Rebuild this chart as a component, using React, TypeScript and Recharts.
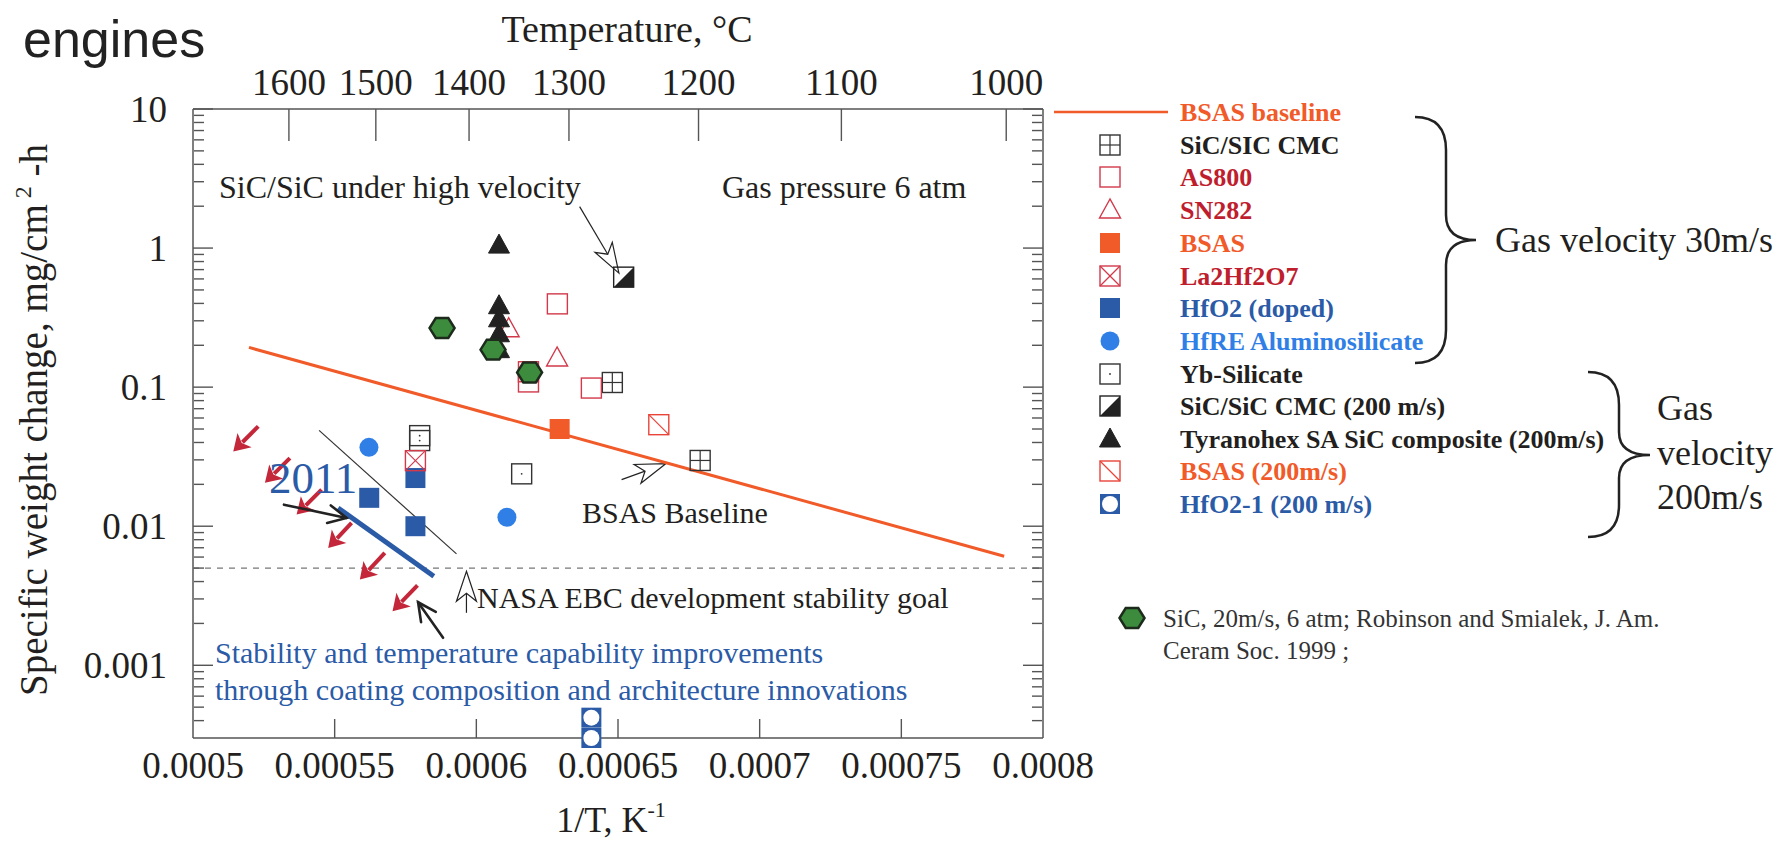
import { ScatterChart, Scatter, XAxis, YAxis, ReferenceLine } from 'recharts'

const SERIF = '"Liberation Serif", "Times New Roman", serif'
const SANS = '"Liberation Sans", Arial, sans-serif'
const INK = '#231f20'
const AXIS = '#555'
const ORANGE = '#f15a29'
const DARKRED = '#be1e2d'
const MARKRED = '#d2394a'
const BLUE = '#2b5ba6'
const LIGHTBLUE = '#2f7fe6'
const GREEN = '#3d8b3d'
const RED_ARROW = '#c4263a'

// axes
const X_DOMAIN: [number, number] = [0.0005, 0.0008]
const Y_DOMAIN: [number, number] = [0.0003, 10]
const xTicks = [0.0005, 0.00055, 0.0006, 0.00065, 0.0007, 0.00075, 0.0008]
const yTicks = [0.001, 0.01, 0.1, 1, 10]
const yMinorTicks = [0.0001, 0.001, 0.01, 0.1, 1]
  .flatMap(d => [2, 3, 4, 5, 6, 7, 8, 9].map(m => +(d * m).toPrecision(2)))
  .filter(v => v > 0.0003)
const tempTickPos = [0.00053385, 0.00056453, 0.00059743, 0.00063269, 0.00067842, 0.00072884, 0.00078702]
const tempTickLabels = ['1600', '1500', '1400', '1300', '1200', '1100', '1000']

// series (x = 1/T, y = mg/cm2-h)
const bsasBaseline = [{ x: 0.00051975, y: 0.193 }, { x: 0.0007863, y: 0.00608 }]
const sicCmc = [{ x: 0.000648, y: 0.108 }, { x: 0.000679, y: 0.0297 }]
const as800 = [
  { x: 0.0006286, y: 0.397 },
  { x: 0.0006184, y: 0.129 },
  { x: 0.0006184, y: 0.109 },
  { x: 0.0006406, y: 0.0985 },
]
const sn282 = [{ x: 0.0006114, y: 0.263 }, { x: 0.0006285, y: 0.162 }]
const bsas = [{ x: 0.0006294, y: 0.05 }]
const ybSilicate = [{ x: 0.00058, y: 0.0448 }, { x: 0.00058, y: 0.0413 }, { x: 0.000616, y: 0.0238 }]
const hfo2Doped = [{ x: 0.0005785, y: 0.0222 }, { x: 0.0005622, y: 0.016 }, { x: 0.0005785, y: 0.01 }]
const la2hf2o7 = [{ x: 0.0005785, y: 0.0296 }]
const hfreAlumino = [{ x: 0.0005621, y: 0.0369 }, { x: 0.0006108, y: 0.0116 }]
const sicCmc200 = [{ x: 0.000652, y: 0.618 }]
const tyranohex = [
  { x: 0.000608, y: 1.05 },
  { x: 0.000608, y: 0.385 },
  { x: 0.000608, y: 0.31 },
  { x: 0.000608, y: 0.242 },
  { x: 0.000608, y: 0.186 },
]
const bsas200 = [{ x: 0.0006644, y: 0.0537 }]
const hfo2One200 = [{ x: 0.0006406, y: 0.00042 }, { x: 0.0006406, y: 0.0003 }]
const sicRobinson = [{ x: 0.0005879, y: 0.266 }, { x: 0.0006059, y: 0.186 }, { x: 0.0006188, y: 0.1276 }]

// annotations, [tail, head] in data units
type Pt = { x: number; y: number }
const redArrows: [Pt, Pt][] = [
  [{ x: 0.00052303, y: 0.0522 }, { x: 0.00051421, y: 0.0345 }],
  [{ x: 0.0005342, y: 0.0309 }, { x: 0.00052539, y: 0.0205 }],
  [{ x: 0.00054538, y: 0.01832 }, { x: 0.00053657, y: 0.01212 }],
  [{ x: 0.00055596, y: 0.01056 }, { x: 0.00054771, y: 0.00698 }],
  [{ x: 0.0005677, y: 0.00643 }, { x: 0.00055889, y: 0.00413 }],
  [{ x: 0.00057923, y: 0.00376 }, { x: 0.00057042, y: 0.00245 }],
]
const blackArrows: [Pt, Pt][] = [
  [{ x: 0.00053209, y: 0.01429 }, { x: 0.0005542, y: 0.01147 }],
  [{ x: 0.00058826, y: 0.001576 }, { x: 0.00057944, y: 0.00284 }],
]
const hollowArrows: [Pt, Pt][] = [
  [{ x: 0.00063646, y: 1.987 }, { x: 0.00065032, y: 0.66 }],
  [{ x: 0.00065127, y: 0.02162 }, { x: 0.00066685, y: 0.02817 }],
  [{ x: 0.00059651, y: 0.002384 }, { x: 0.00059651, y: 0.004742 }],
]
const stabilityGoal = 0.005
const trendLine: [Pt, Pt] = [{ x: 0.0005445, y: 0.0489 }, { x: 0.000593, y: 0.00632 }]
const line2011: [Pt, Pt] = [{ x: 0.0005512, y: 0.01353 }, { x: 0.000585, y: 0.00437 }]

type Kind =
  | 'grid' | 'open' | 'tri' | 'fill' | 'boxX' | 'circle' | 'dot'
  | 'half' | 'blackTri' | 'diag' | 'sqCircle' | 'hex'

function Marker({ kind, cx, cy, color }: { kind: Kind; cx: number; cy: number; color: string }) {
  const s = 20
  const h = s / 2
  const box = <rect x={cx - h} y={cy - h} width={s} height={s} fill="none" stroke={color} strokeWidth={1.4} />
  switch (kind) {
    case 'grid':
      return (
        <g>
          {box}
          <line x1={cx} y1={cy - h} x2={cx} y2={cy + h} stroke={color} strokeWidth={1.2} />
          <line x1={cx - h} y1={cy} x2={cx + h} y2={cy} stroke={color} strokeWidth={1.2} />
        </g>
      )
    case 'open':
      return box
    case 'tri':
      return <polygon points={`${cx},${cy - 11} ${cx - 10.5},${cy + 8} ${cx + 10.5},${cy + 8}`} fill="none" stroke={color} strokeWidth={1.4} />
    case 'blackTri':
      return <polygon points={`${cx},${cy - 11} ${cx - 10.5},${cy + 8} ${cx + 10.5},${cy + 8}`} fill={color} stroke={color} strokeWidth={1} />
    case 'fill':
      return <rect x={cx - h} y={cy - h} width={s} height={s} fill={color} />
    case 'boxX':
      return (
        <g>
          {box}
          <line x1={cx - h} y1={cy - h} x2={cx + h} y2={cy + h} stroke={color} strokeWidth={1.2} />
          <line x1={cx + h} y1={cy - h} x2={cx - h} y2={cy + h} stroke={color} strokeWidth={1.2} />
        </g>
      )
    case 'circle':
      return <circle cx={cx} cy={cy} r={9.5} fill={color} />
    case 'dot':
      return (
        <g>
          {box}
          <circle cx={cx} cy={cy} r={0.9} fill={color} />
        </g>
      )
    case 'half':
      return (
        <g>
          {box}
          <polygon points={`${cx + h},${cy - h} ${cx + h},${cy + h} ${cx - h},${cy + h}`} fill={color} />
        </g>
      )
    case 'diag':
      return (
        <g>
          {box}
          <line x1={cx - h} y1={cy - h} x2={cx + h} y2={cy + h} stroke={color} strokeWidth={1.2} />
        </g>
      )
    case 'sqCircle':
      return (
        <g>
          <rect x={cx - h} y={cy - h} width={s} height={s} fill={color} />
          <circle cx={cx} cy={cy} r={8} fill="#fff" />
        </g>
      )
    case 'hex': {
      const r = 12.5
      const pts = [0, 60, 120, 180, 240, 300]
        .map(a => `${cx + r * Math.cos((a * Math.PI) / 180)},${cy + r * 0.92 * Math.sin((a * Math.PI) / 180)}`)
        .join(' ')
      return <polygon points={pts} fill={GREEN} stroke="#1c2b1c" strokeWidth={2.5} />
    }
  }
}

const shapeOf = (kind: Kind, color: string) => (p: any) =>
  <Marker kind={kind} cx={p.cx} cy={p.cy} color={color} />

const noLabel = () => <g />
const noPoint = () => <g />

const BottomTick = (p: any) => (
  <text x={p.x} y={p.y} dy="0.71em" textAnchor="middle" fontSize={37} fill={INK} fontFamily={SERIF}>
    {String(p.payload?.value)}
  </text>
)

const TempTick = (p: any) => {
  const v = p.payload?.value
  const i = tempTickPos.findIndex(t => Math.abs(t - v) < 1e-9)
  return (
    <text x={p.x} y={p.y} textAnchor="middle" fontSize={37} fill={INK} fontFamily={SERIF}>
      {i >= 0 ? tempTickLabels[i] : ''}
    </text>
  )
}

function arrowShape(kind: 'red' | 'black' | 'hollow') {
  return (p: any) => {
    const x1 = Number(p.x1)
    const y1 = Number(p.y1)
    const x2 = Number(p.x2)
    const y2 = Number(p.y2)
    const dx = x2 - x1
    const dy = y2 - y1
    const len = Math.hypot(dx, dy) || 1
    const ux = dx / len
    const uy = dy / len
    const vx = -uy
    const vy = ux
    if (kind === 'red') {
      const L = 16
      const W = 10
      const bx = x2 - ux * L
      const by = y2 - uy * L
      return (
        <g>
          <line x1={x1} y1={y1} x2={bx + ux * 3} y2={by + uy * 3} stroke={RED_ARROW} strokeWidth={4} />
          <polygon points={`${x2},${y2} ${bx + vx * W},${by + vy * W} ${bx + ux * 4},${by + uy * 4} ${bx - vx * W},${by - vy * W}`} fill={RED_ARROW} />
        </g>
      )
    }
    if (kind === 'black') {
      const L = 18
      const W = 9
      const bx = x2 - ux * L
      const by = y2 - uy * L
      return (
        <g stroke="#222" strokeWidth={2.6} fill="none" strokeLinecap="round">
          <line x1={x1} y1={y1} x2={x2} y2={y2} />
          <polyline points={`${bx + vx * W},${by + vy * W} ${x2},${y2} ${bx - vx * W},${by - vy * W}`} />
        </g>
      )
    }
    const L = 30
    const W = 10
    const n = 8
    const bx = x2 - ux * L
    const by = y2 - uy * L
    const nx = x2 - ux * (L - n)
    const ny = y2 - uy * (L - n)
    return (
      <g stroke="#222" strokeWidth={1.2}>
        <line x1={x1} y1={y1} x2={nx} y2={ny} />
        <polygon points={`${x2},${y2} ${bx + vx * W},${by + vy * W} ${nx},${ny} ${bx - vx * W},${by - vy * W}`} fill="#fff" />
      </g>
    )
  }
}

const legendRows: { label: string; color: string; kind: Kind | 'line'; markColor: string }[] = [
  { label: 'BSAS baseline', color: ORANGE, kind: 'line', markColor: ORANGE },
  { label: 'SiC/SIC CMC', color: INK, kind: 'grid', markColor: '#333' },
  { label: 'AS800', color: DARKRED, kind: 'open', markColor: MARKRED },
  { label: 'SN282', color: DARKRED, kind: 'tri', markColor: MARKRED },
  { label: 'BSAS', color: ORANGE, kind: 'fill', markColor: ORANGE },
  { label: 'La2Hf2O7', color: DARKRED, kind: 'boxX', markColor: MARKRED },
  { label: 'HfO2 (doped)', color: BLUE, kind: 'fill', markColor: BLUE },
  { label: 'HfRE Aluminosilicate', color: LIGHTBLUE, kind: 'circle', markColor: LIGHTBLUE },
  { label: 'Yb-Silicate', color: INK, kind: 'dot', markColor: '#333' },
  { label: 'SiC/SiC CMC (200 m/s)', color: INK, kind: 'half', markColor: '#222' },
  { label: 'Tyranohex SA SiC composite (200m/s)', color: INK, kind: 'blackTri', markColor: '#222' },
  { label: 'BSAS (200m/s)', color: ORANGE, kind: 'diag', markColor: '#e8443a' },
  { label: 'HfO2-1 (200 m/s)', color: BLUE, kind: 'sqCircle', markColor: BLUE },
]
const legendY = [112, 145, 177, 210, 243, 276, 308, 341, 374, 406, 439, 471, 504]

export default function App() {
  const axisLine = { stroke: AXIS, strokeWidth: 1.5 }
  const tickLine = { stroke: AXIS, strokeWidth: 1.4 }
  const tickText = { fontSize: 37, fill: INK, fontFamily: SERIF }
  return (
    <div style={{ position: 'absolute', left: 0, top: 0, width: 1784, height: 843, background: '#fff', overflow: 'hidden' }}>
      <ScatterChart width={1784} height={843} margin={{ top: 108, right: 741, bottom: 104, left: 192 }}>
        <XAxis xAxisId="x" type="number" dataKey="x" domain={X_DOMAIN} ticks={xTicks} interval={0}
          height={1} tickSize={0} tickMargin={14} tickLine={false} axisLine={axisLine} tick={BottomTick} />
        <XAxis xAxisId="xin" type="number" dataKey="x" domain={X_DOMAIN} ticks={xTicks.slice(1, -1)} interval={0}
          height={1} mirror tickSize={19} tick={noLabel} axisLine={false} tickLine={tickLine} />
        <XAxis xAxisId="top" orientation="top" type="number" dataKey="x" domain={X_DOMAIN} ticks={tempTickPos} interval={0}
          height={1} tickSize={0} tickMargin={14} tickLine={false} axisLine={axisLine} tick={TempTick} />
        <XAxis xAxisId="topin" orientation="top" type="number" dataKey="x" domain={X_DOMAIN} ticks={tempTickPos} interval={0}
          height={1} mirror tickSize={32} tick={noLabel} axisLine={false} tickLine={tickLine} />
        <YAxis yAxisId="y" type="number" dataKey="y" scale="log" domain={Y_DOMAIN} ticks={yTicks} interval={0}
          width={1} tickSize={0} tickMargin={26} tickLine={false} axisLine={axisLine} tick={tickText}
          tickFormatter={(v: number) => String(v)} />
        <YAxis yAxisId="ymaj" type="number" scale="log" domain={Y_DOMAIN} ticks={yTicks} allowDataOverflow interval={0}
          width={1} mirror tickSize={20} tick={noLabel} axisLine={false} tickLine={tickLine} />
        <YAxis yAxisId="ymin" type="number" scale="log" domain={Y_DOMAIN} ticks={yMinorTicks} allowDataOverflow interval={0}
          width={1} mirror tickSize={10} tick={noLabel} axisLine={false} tickLine={tickLine} />
        <YAxis yAxisId="rmaj" orientation="right" type="number" scale="log" domain={Y_DOMAIN} ticks={yTicks} allowDataOverflow interval={0}
          width={1} mirror tickSize={20} tick={noLabel} axisLine={axisLine} tickLine={tickLine} />
        <YAxis yAxisId="rmin" orientation="right" type="number" scale="log" domain={Y_DOMAIN} ticks={yMinorTicks} allowDataOverflow interval={0}
          width={1} mirror tickSize={10} tick={noLabel} axisLine={false} tickLine={tickLine} />

        <ReferenceLine xAxisId="x" yAxisId="y" y={stabilityGoal} stroke="#777" strokeWidth={1.2} strokeDasharray="6 6" />
        <ReferenceLine xAxisId="x" yAxisId="y" segment={trendLine} stroke="#333" strokeWidth={1.2} />
        <ReferenceLine xAxisId="x" yAxisId="y" segment={line2011} stroke={BLUE} strokeWidth={5} />
        {redArrows.map((seg, i) => (
          <ReferenceLine key={'r' + i} xAxisId="x" yAxisId="y" segment={seg} shape={arrowShape('red')} />
        ))}
        {blackArrows.map((seg, i) => (
          <ReferenceLine key={'b' + i} xAxisId="x" yAxisId="y" segment={seg} shape={arrowShape('black')} />
        ))}
        {hollowArrows.map((seg, i) => (
          <ReferenceLine key={'h' + i} xAxisId="x" yAxisId="y" segment={seg} shape={arrowShape('hollow')} />
        ))}

        {/* invisible copies of the baseline so the extra x axes (temperature labels, inward ticks) have data */}
        <Scatter xAxisId="top" yAxisId="y" data={bsasBaseline} shape={noPoint} isAnimationActive={false} />
        <Scatter xAxisId="topin" yAxisId="y" data={bsasBaseline} shape={noPoint} isAnimationActive={false} />
        <Scatter xAxisId="xin" yAxisId="y" data={bsasBaseline} shape={noPoint} isAnimationActive={false} />

        <Scatter xAxisId="x" yAxisId="y" data={bsasBaseline} line={{ stroke: ORANGE, strokeWidth: 3 }} shape={noPoint} isAnimationActive={false} />
        <Scatter xAxisId="x" yAxisId="y" data={sicCmc} shape={shapeOf('grid', '#333')} isAnimationActive={false} />
        <Scatter xAxisId="x" yAxisId="y" data={as800} shape={shapeOf('open', MARKRED)} isAnimationActive={false} />
        <Scatter xAxisId="x" yAxisId="y" data={sn282} shape={shapeOf('tri', MARKRED)} isAnimationActive={false} />
        <Scatter xAxisId="x" yAxisId="y" data={ybSilicate} shape={shapeOf('dot', '#333')} isAnimationActive={false} />
        <Scatter xAxisId="x" yAxisId="y" data={hfo2Doped} shape={shapeOf('fill', BLUE)} isAnimationActive={false} />
        <Scatter xAxisId="x" yAxisId="y" data={la2hf2o7} shape={shapeOf('boxX', MARKRED)} isAnimationActive={false} />
        <Scatter xAxisId="x" yAxisId="y" data={hfreAlumino} shape={shapeOf('circle', LIGHTBLUE)} isAnimationActive={false} />
        <Scatter xAxisId="x" yAxisId="y" data={bsas} shape={shapeOf('fill', ORANGE)} isAnimationActive={false} />
        <Scatter xAxisId="x" yAxisId="y" data={sicCmc200} shape={shapeOf('half', '#222')} isAnimationActive={false} />
        <Scatter xAxisId="x" yAxisId="y" data={tyranohex} shape={shapeOf('blackTri', '#222')} isAnimationActive={false} />
        <Scatter xAxisId="x" yAxisId="y" data={bsas200} shape={shapeOf('diag', '#e8443a')} isAnimationActive={false} />
        <Scatter xAxisId="x" yAxisId="y" data={hfo2One200} shape={shapeOf('sqCircle', BLUE)} isAnimationActive={false} />
        <Scatter xAxisId="x" yAxisId="y" data={sicRobinson} shape={shapeOf('hex', GREEN)} isAnimationActive={false} />
      </ScatterChart>

      <svg width={1784} height={843} style={{ position: 'absolute', left: 0, top: 0, pointerEvents: 'none' }}
        fontFamily={SERIF} fill={INK}>
        <text x={23} y={57} fontFamily={SANS} fontSize={52} fill="#222">engines</text>
        <text x={627} y={42} fontSize={38} textAnchor="middle">Temperature, °C</text>
        <text x={611} y={832} fontSize={36} textAnchor="middle">
          1/T, K<tspan fontSize={22} dy={-15}>-1</tspan>
        </text>
        <text transform="rotate(-90 47 420)" x={47} y={420} fontSize={39} textAnchor="middle">
          Specific weight change, mg/cm<tspan fontSize={24} dy={-16}> 2</tspan><tspan dy={16}> -h</tspan>
        </text>

        <text x={219} y={198} fontSize={32}>SiC/SiC under high velocity</text>
        <text x={722} y={198} fontSize={32}>Gas pressure 6 atm</text>
        <text x={582} y={523} fontSize={30}>BSAS Baseline</text>
        <text x={477} y={608} fontSize={30}>NASA EBC development stability goal</text>
        <text x={269} y={493} fontSize={45} fill={BLUE}>2011</text>
        <text x={215} y={663} fontSize={30} fill={BLUE}>Stability and temperature capability improvements</text>
        <text x={215} y={700} fontSize={30} fill={BLUE}>through coating composition and architecture innovations</text>

        {legendRows.map((r, i) => (
          <g key={r.label}>
            {r.kind === 'line'
              ? <line x1={1054} y1={legendY[i]} x2={1168} y2={legendY[i]} stroke={ORANGE} strokeWidth={2.5} />
              : <Marker kind={r.kind} cx={1110} cy={legendY[i]} color={r.markColor} />}
            <text x={1180} y={legendY[i] + 9} fontSize={26} fontWeight="bold" fill={r.color}>{r.label}</text>
          </g>
        ))}

        <path d="M1415,117 Q1446,117 1446,150 L1446,215 Q1446,240 1476,240 Q1446,240 1446,265 L1446,330 Q1446,363 1415,363"
          fill="none" stroke="#222" strokeWidth={2.5} />
        <text x={1495} y={252} fontSize={36}>Gas velocity 30m/s</text>

        <path d="M1588,372 Q1619,372 1619,405 L1619,432 Q1619,455 1650,455 Q1619,455 1619,478 L1619,505 Q1619,537 1588,537"
          fill="none" stroke="#222" strokeWidth={2.5} />
        <text x={1657} y={420} fontSize={36}>Gas</text>
        <text x={1657} y={465} fontSize={36}>velocity</text>
        <text x={1657} y={509} fontSize={36}>200m/s</text>

        <Marker kind="hex" cx={1132} cy={618} color={GREEN} />
        <text x={1163} y={627} fontSize={25} fill="#333">SiC, 20m/s, 6 atm; Robinson and Smialek, J. Am.</text>
        <text x={1163} y={659} fontSize={25} fill="#333">Ceram Soc. 1999 ;</text>
      </svg>
    </div>
  )
}
